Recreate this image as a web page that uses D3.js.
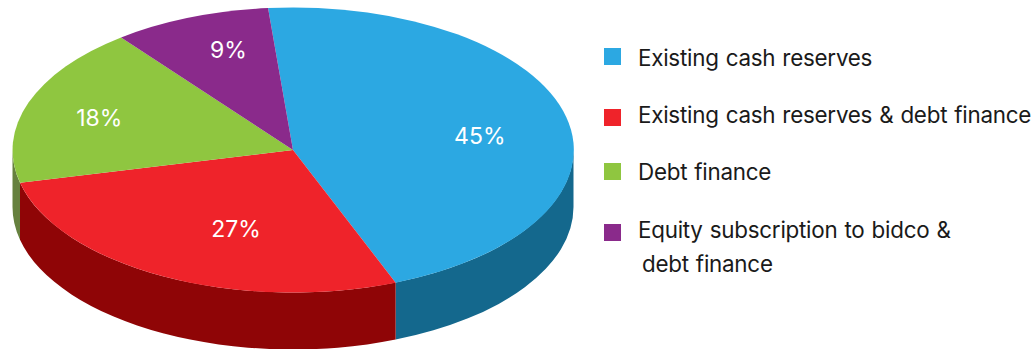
<!DOCTYPE html>
<html>
<head>
<meta charset="utf-8">
<script src="https://cdnjs.cloudflare.com/ajax/libs/d3/7.8.5/d3.min.js"></script>
<style>
  html, body { margin: 0; background: #fff; }
  svg { display: block; }
  text { font-family: Inter, "Open Sans", sans-serif; }
</style>
</head>
<body>
<svg id="chart" width="1036" height="349"></svg>
<script>
// Funding sources, in percent
const categories = [
  "Existing cash reserves",
  "Existing cash reserves & debt finance",
  "Debt finance",
  "Equity subscription to bidco & debt finance"
];
const shares = [45, 27, 18, 9];
const percentLabels = ["45%", "27%", "18%", "9%"];
const topColors = ["#2ca8e2", "#ef232a", "#8fc640", "#8a2a8b"];
const sideColors = ["#14688d", "#8f0506", "#66813f", "#5c1c5d"];

// Tilted pie geometry
const cx = 293, cy = 150, rx = 280.5, ry = 142.5, depth = 57;
const startAngle = -5.1 * Math.PI / 180;
const labelShift = [[23, 6], [21, 3], [-35, -4], [-3, -20]];

const svg = d3.select("#chart");

const pie = d3.pie().sort(null).startAngle(startAngle).endAngle(startAngle + 2 * Math.PI);
const slices = pie(shares);

// Unit scales that project the circle onto the tilted ellipse
const px = d3.scaleLinear().domain([-1, 1]).range([cx - rx, cx + rx]);
const py = d3.scaleLinear().domain([-1, 1]).range([cy - ry, cy + ry]);
const pt = a => [px(Math.sin(a)), py(-Math.cos(a))];

// Curved wall below the rim: only the front half (90° to 270°) can be seen
function wallPath(a0, a1) {
  const lo = Math.max(a0, Math.PI / 2), hi = Math.min(a1, 3 * Math.PI / 2);
  if (hi <= lo) return null;
  const [x0, y0] = pt(lo), [x1, y1] = pt(hi);
  return `M${x0},${y0}A${rx},${ry} 0 0 1 ${x1},${y1}` +
         `L${x1},${y1 + depth}A${rx},${ry} 0 0 0 ${x0},${y0 + depth}Z`;
}

svg.append("g").selectAll("path")
  .data(slices)
  .join("path")
  .attr("d", d => wallPath(d.startAngle, d.endAngle))
  .attr("fill", (d, i) => sideColors[i]);

// Top face: a unit pie scaled into the ellipse
const arc = d3.arc().innerRadius(0).outerRadius(1);
svg.append("g")
  .attr("transform", `translate(${cx},${cy}) scale(${rx},${ry})`)
  .selectAll("path")
  .data(slices)
  .join("path")
  .attr("d", arc)
  .attr("fill", (d, i) => topColors[i]);

// Percentage labels on the slices
const labelArc = d3.arc().innerRadius(1.2).outerRadius(0);
svg.append("g").selectAll("text")
  .data(slices)
  .join("text")
  .attr("x", (d, i) => px(labelArc.centroid(d)[0]) + labelShift[i][0])
  .attr("y", (d, i) => py(labelArc.centroid(d)[1]) + labelShift[i][1])
  .attr("text-anchor", "middle")
  .attr("dominant-baseline", "central")
  .attr("font-size", 23)
  .attr("fill", "#fff")
  .text((d, i) => percentLabels[i]);

// Legend
const swatchY = d3.scaleOrdinal().domain(categories).range([48, 109, 163, 224]);
const baselineY = d3.scaleOrdinal().domain(categories).range([66, 123, 180, 238]);
const legend = svg.append("g").selectAll("g")
  .data(categories)
  .join("g");

legend.append("rect")
  .attr("x", 604)
  .attr("y", d => swatchY(d))
  .attr("width", 17)
  .attr("height", 17)
  .attr("fill", (d, i) => topColors[i]);

legend.append("text")
  .attr("x", 638)
  .attr("y", d => baselineY(d))
  .attr("font-size", 22.4)
  .attr("letter-spacing", -0.25)
  .attr("word-spacing", 1)
  .attr("fill", "#1a1a1a")
  .each(function(d) {
    // The longest entry wraps onto a second, slightly indented line
    const sel = d3.select(this);
    const split = d.indexOf(" debt finance");
    if (d.startsWith("Equity")) {
      sel.append("tspan").text(d.slice(0, split));
      sel.append("tspan").attr("x", 642).attr("dy", 33.5).text(d.slice(split + 1));
    } else {
      sel.text(d);
    }
  });
</script>
</body>
</html>
